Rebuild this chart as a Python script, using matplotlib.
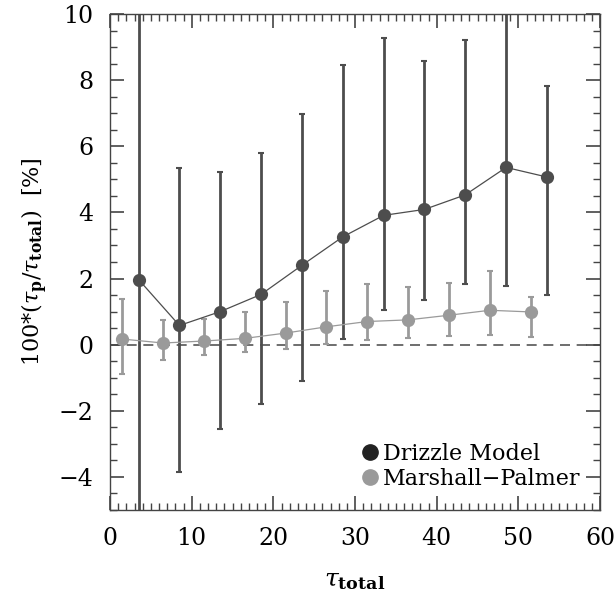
import numpy as np
import matplotlib.pyplot as plt
from matplotlib.lines import Line2D

# binned data
drizzle_x = [3.5, 8.5, 13.5, 18.5, 23.5, 28.5, 33.5, 38.5, 43.5, 48.5, 53.5]
drizzle_y = [1.97, 0.58, 1.00, 1.52, 2.40, 3.26, 3.91, 4.09, 4.53, 5.36, 5.07]
drizzle_lo = [-7.5, -3.86, -2.56, -1.79, -1.09, 0.18, 1.04, 1.34, 1.84, 1.77, 1.50]
drizzle_hi = [11.5, 5.33, 5.23, 5.79, 6.97, 8.47, 9.27, 8.58, 9.20, 10.5, 7.81]

mp_x = [1.5, 6.5, 11.5, 16.5, 21.5, 26.5, 31.5, 36.5, 41.5, 46.5, 51.5]
mp_y = [0.17, 0.05, 0.11, 0.19, 0.35, 0.54, 0.70, 0.75, 0.89, 1.04, 0.99]
mp_lo = [-0.89, -0.47, -0.32, -0.22, -0.13, 0.02, 0.13, 0.19, 0.26, 0.29, 0.24]
mp_hi = [1.39, 0.74, 0.79, 1.00, 1.29, 1.62, 1.82, 1.74, 1.86, 2.22, 1.43]

plt.rcParams['font.family'] = 'DejaVu Serif'
plt.rcParams['mathtext.fontset'] = 'dejavuserif'

dark = '#4d4d4d'
light = '#9a9a9a'

fig = plt.figure(figsize=(6.15, 5.95), dpi=100)
ax = fig.add_axes([110 / 615, 1 - 510 / 595, 490 / 615, 496 / 595])

ax.axhline(0, color='#555555', lw=1.2, ls=(0, (6, 4)), zorder=1)

for x, y, lo, hi, c in [(drizzle_x, drizzle_y, drizzle_lo, drizzle_hi, dark),
                        (mp_x, mp_y, mp_lo, mp_hi, light)]:
    x = np.array(x)
    y = np.array(y)
    yerr = [y - np.array(lo), np.array(hi) - y]
    ax.errorbar(x, y, yerr=yerr, fmt='none', ecolor=c, elinewidth=2.0,
                capsize=2.0, capthick=1.5, zorder=2)
    ax.plot(x, y, '-', color=c, lw=0.9, zorder=3)
    ax.plot(x, y, 'o', color=c, ms=9.5, mec='none', zorder=4)

ax.set_xlim(0, 60)
ax.set_ylim(-5, 10)
ax.set_xticks(np.arange(0, 61, 10))
ax.set_yticks(np.arange(-4, 11, 2))
ax.set_xticks(np.arange(0, 61, 1), minor=True)
ax.set_yticks(np.arange(-5, 10.01, 0.5), minor=True)
ax.set_yticklabels(['\u22124', '\u22122', '0', '2', '4', '6', '8', '10'])
ax.tick_params(which='both', direction='in', top=True, right=True,
               labelsize=17, color='#444444')
ax.tick_params(which='major', length=10, width=1.2, pad=12)
ax.tick_params(which='minor', length=5, width=1.0)
for s in ax.spines.values():
    s.set_linewidth(1.0)
    s.set_color('#444444')

ax.set_xlabel(r'$\tau_{\mathbf{total}}$', fontsize=18, labelpad=14)
ax.set_ylabel(r'100*($\tau_{\mathbf{p}}/\tau_{\mathbf{total}}$)  [%]', fontsize=16, labelpad=6)

handles = [Line2D([], [], marker='o', ls='none', color='#222222', ms=11),
           Line2D([], [], marker='o', ls='none', color=light, ms=11)]
ax.legend(handles, ['Drizzle Model', 'Marshall\u2212Palmer'], loc='lower right',
          frameon=False, fontsize=16, handletextpad=0.05, borderaxespad=0.5,
          labelspacing=0.15, handlelength=1.0)

fig.savefig('out.png', dpi=100)
